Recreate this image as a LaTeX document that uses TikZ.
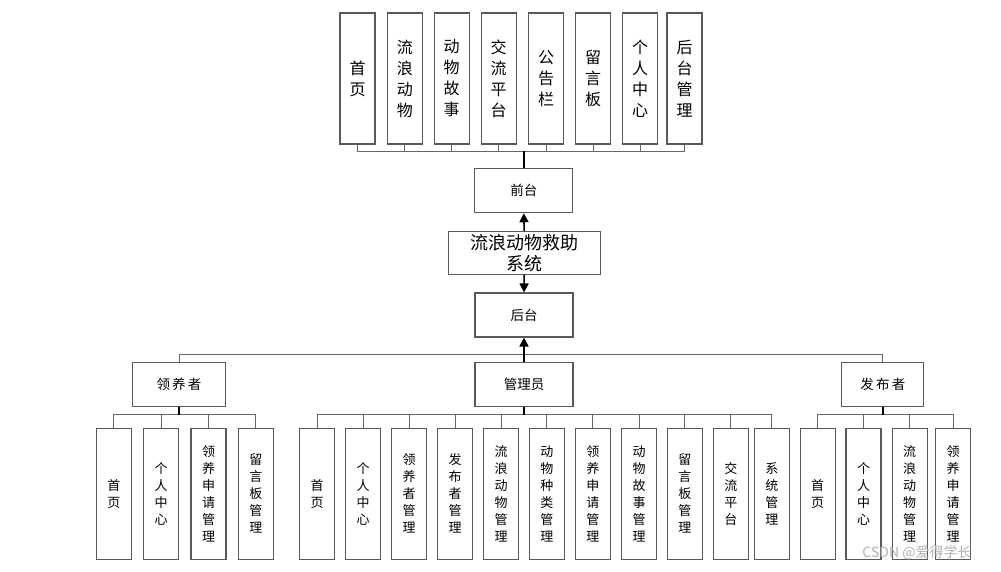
\documentclass[tikz,border=0pt]{standalone}
\usepackage{fontspec}
\newfontfamily\cjk{Noto Sans CJK SC}
\usetikzlibrary{arrows.meta}

\begin{document}
\begin{tikzpicture}[x=1pt,y=-1pt,
    box/.style={draw=black!65, line width=1.1pt, fill=white, inner sep=0pt, align=center},
    tall/.style={box, minimum width=35pt, minimum height=131pt, font=\cjk\fontsize{16}{21}\selectfont},
    low/.style={box, minimum width=35pt, minimum height=131pt, font=\cjk\fontsize{13}{17}\selectfont},
    mid/.style={box, minimum height=44pt, font=\cjk\fontsize{13.5}{16}\selectfont},
    bus/.style={draw=black!60, line width=0.9pt},
    trunk/.style={draw=black, line width=1.6pt},
    arr/.style={trunk, -{Triangle[length=9pt,width=9pt]}}]
    \useasboundingbox (0,0) rectangle (1001,572);

    % Front end modules
    \node[tall] (t1) at (357.5,78.5) {首\\页};
    \node[tall] (t2) at (404.8,78.5) {流\\浪\\动\\物};
    \node[tall] (t3) at (451.7,78.5) {动\\物\\故\\事};
    \node[tall] (t4) at (498.7,78.5) {交\\流\\平\\台};
    \node[tall] (t5) at (546,78.5) {公\\告\\栏};
    \node[tall] (t6) at (593,78.5) {留\\言\\板};
    \node[tall] (t7) at (640,78.5) {个\\人\\中\\心};
    \node[tall] (t8) at (684.5,78.5) {后\\台\\管\\理};

    % Centre column
    \node[mid, minimum width=98pt] (qt) at (523.8,190.7) {前台};
    \node[box, minimum width=152pt, minimum height=43pt,
          font=\cjk\fontsize{18}{21}\selectfont] (sys) at (524.2,253) {流浪动物救助\\系统};
    \node[mid, minimum width=98pt] (ht) at (524,315) {后台};

    % Roles
    \node[mid, minimum width=93pt] (lyz) at (179,384.7) {领\,养\,者};
    \node[mid, minimum width=98pt] (gly) at (524,384.7) {管理员};
    \node[mid, minimum width=82pt] (fbz) at (882.8,384.7) {发\,布\,者};
    \coordinate (hub) at (524,354.3);

    % Adopter modules
    \node[low] (l1) at (113.8,493.8) {首\\页};
    \node[low] (l2) at (161.2,493.8) {个\\人\\中\\心};
    \node[low] (l3) at (208.5,493.8) {领\\养\\申\\请\\管\\理};
    \node[low] (l4) at (255.8,493.8) {留\\言\\板\\管\\理};

    % Administrator modules
    \node[low] (a1) at (317.2,493.8) {首\\页};
    \node[low] (a2) at (363.2,493.8) {个\\人\\中\\心};
    \node[low] (a3) at (409.2,493.8) {领\\养\\者\\管\\理};
    \node[low] (a4) at (455,493.8) {发\\布\\者\\管\\理};
    \node[low] (a5) at (501.2,493.8) {流\\浪\\动\\物\\管\\理};
    \node[low] (a6) at (546.9,493.8) {动\\物\\种\\类\\管\\理};
    \node[low] (a7) at (592.9,493.8) {领\\养\\申\\请\\管\\理};
    \node[low] (a8) at (639,493.8) {动\\物\\故\\事\\管\\理};
    \node[low] (a9) at (684.9,493.8) {留\\言\\板\\管\\理};
    \node[low] (a10) at (730.8,493.8) {交\\流\\平\\台};
    \node[low] (a11) at (771.9,493.8) {系\\统\\管\\理};

    % Publisher modules
    \node[low] (p1) at (817.6,493.8) {首\\页};
    \node[low] (p2) at (863.5,493.8) {个\\人\\中\\心};
    \node[low] (p3) at (909.6,493.8) {流\\浪\\动\\物\\管\\理};
    \node[low] (p4) at (953.1,493.8) {领\\养\\申\\请\\管\\理};

    % Connectors
    \draw[bus] (qt.north) -- ++(0,-17) -| (t1.south);
    \draw[bus] (qt.north) -- ++(0,-17) -| (t2.south);
    \draw[bus] (qt.north) -- ++(0,-17) -| (t3.south);
    \draw[bus] (qt.north) -- ++(0,-17) -| (t4.south);
    \draw[bus] (qt.north) -- ++(0,-17) -| (t5.south);
    \draw[bus] (qt.north) -- ++(0,-17) -| (t6.south);
    \draw[bus] (qt.north) -- ++(0,-17) -| (t7.south);
    \draw[bus] (qt.north) -- ++(0,-17) -| (t8.south);
    \draw[trunk] (qt.north) -- ++(0,-17);

    \draw[arr] (sys.north) -- (qt.south);
    \draw[arr] (sys.south) -- (ht.north);
    \draw[bus] (lyz.north) |- (hub) -| (fbz.north);
    \draw[arr] (gly.north) -- (ht.south);

    \draw[bus] (lyz.south) -- ++(0,7.5) -| (l1.north);
    \draw[bus] (lyz.south) -- ++(0,7.5) -| (l2.north);
    \draw[bus] (lyz.south) -- ++(0,7.5) -| (l3.north);
    \draw[bus] (lyz.south) -- ++(0,7.5) -| (l4.north);
    \draw[trunk] (lyz.south) -- ++(0,7.5);

    \draw[bus] (gly.south) -- ++(0,7.5) -| (a1.north);
    \draw[bus] (gly.south) -- ++(0,7.5) -| (a2.north);
    \draw[bus] (gly.south) -- ++(0,7.5) -| (a3.north);
    \draw[bus] (gly.south) -- ++(0,7.5) -| (a4.north);
    \draw[bus] (gly.south) -- ++(0,7.5) -| (a5.north);
    \draw[bus] (gly.south) -- ++(0,7.5) -| (a6.north);
    \draw[bus] (gly.south) -- ++(0,7.5) -| (a7.north);
    \draw[bus] (gly.south) -- ++(0,7.5) -| (a8.north);
    \draw[bus] (gly.south) -- ++(0,7.5) -| (a9.north);
    \draw[bus] (gly.south) -- ++(0,7.5) -| (a10.north);
    \draw[bus] (gly.south) -- ++(0,7.5) -| (a11.north);
    \draw[trunk] (gly.south) -- ++(0,7.5);

    \draw[bus] (fbz.south) -- ++(0,7.5) -| (p1.north);
    \draw[bus] (fbz.south) -- ++(0,7.5) -| (p2.north);
    \draw[bus] (fbz.south) -- ++(0,7.5) -| (p3.north);
    \draw[bus] (fbz.south) -- ++(0,7.5) -| (p4.north);
    \draw[trunk] (fbz.south) -- ++(0,7.5);

    % Watermark
    \node[text=black!30, font=\cjk\fontsize{14}{14}\selectfont] (wm) at (917,553) {CSDN @爱得学长};
\end{tikzpicture}
\end{document}
